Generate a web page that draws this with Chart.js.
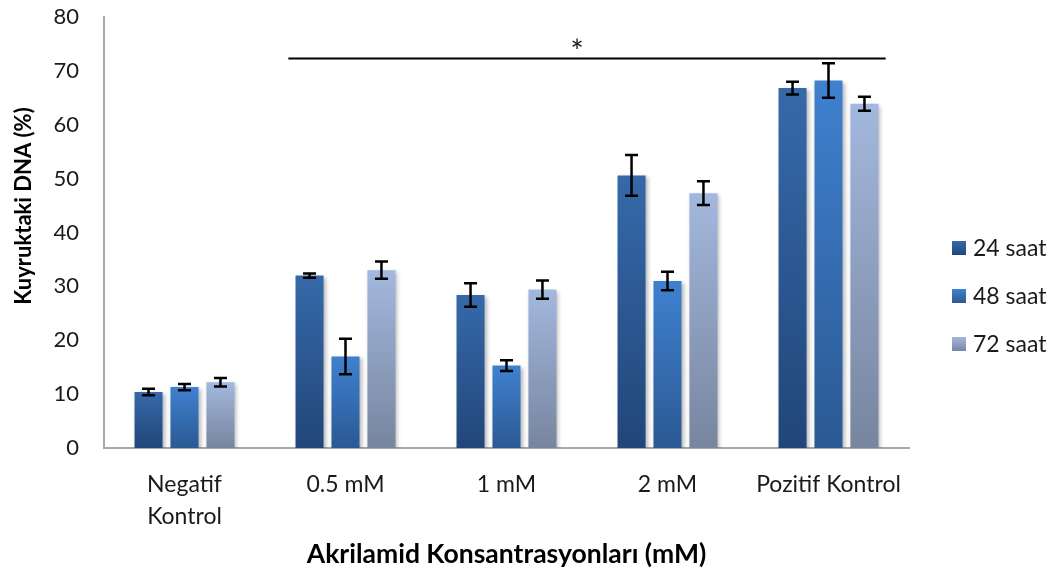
<!DOCTYPE html>
<html>
<head>
<meta charset="utf-8">
<script src="https://cdn.jsdelivr.net/npm/chart.js@4/dist/chart.umd.min.js"></script>
<style>
  html, body { margin: 0; padding: 0; background: #ffffff; }
  #wrap { width: 1056px; height: 574px; }
</style>
</head>
<body>
<div id="wrap"><canvas id="c" width="1056" height="574"></canvas></div>
<script>
// Categories and series (tail DNA %, mean ± error)
const categories = [['Negatif', 'Kontrol'], '0.5 mM', '1 mM', '2 mM', 'Pozitif Kontrol'];
const seriesNames = ['24 saat', '48 saat', '72 saat'];
const saat24 = [10.4, 32.0, 28.4, 50.6, 66.8];
const saat48 = [11.3, 17.0, 15.3, 31.0, 68.2];
const saat72 = [12.2, 33.0, 29.4, 47.3, 63.9];
const err24 = [0.6, 0.4, 2.2, 3.8, 1.2];
const err48 = [0.6, 3.3, 1.0, 1.7, 3.2];
const err72 = [0.8, 1.6, 1.7, 2.2, 1.3];
const yTicks = [0, 10, 20, 30, 40, 50, 60, 70, 80];
const sigLevel = 72.3;
const sigMark = '*';
const yTitle = 'Kuyruktaki DNA (%)';

const FONT = 'Lato, "Open Sans", sans-serif';

// top / bottom colours of each series' vertical gradient
const shades = [
  ['#3669aa', '#214679'],
  ['#3f81d0', '#2b5993'],
  ['#a3b8de', '#77859f']
];

function barGradient(ctx, idx) {
  const chart = ctx.chart;
  const area = chart.chartArea;
  if (!area || ctx.type !== 'data') return shades[idx][0];
  const y = chart.scales.y;
  const top = y.getPixelForValue(ctx.raw);
  const bottom = y.getPixelForValue(0);
  if (!isFinite(top) || !isFinite(bottom) || top === bottom) return shades[idx][0];
  const g = chart.ctx.createLinearGradient(0, top, 0, bottom);
  g.addColorStop(0, shades[idx][0]);
  g.addColorStop(1, shades[idx][1]);
  return g;
}

const values = [saat24, saat48, saat72];
const errors = [err24, err48, err72];

// soft drop shadow under the bars
const barShadow = {
  id: 'barShadow',
  beforeDatasetsDraw(chart) {
    const c = chart.ctx;
    c.save();
    c.shadowColor = 'rgba(0,0,0,0.28)';
    c.shadowBlur = 4;
    c.shadowOffsetX = 2;
    c.shadowOffsetY = 2;
  },
  afterDatasetsDraw(chart) {
    chart.ctx.restore();
  }
};

// error bars, significance bracket, y title and legend
const extras = {
  id: 'extras',
  afterDatasetsDraw(chart) {
    const c = chart.ctx;
    const y = chart.scales.y;
    const x = chart.scales.x;
    c.save();
    c.strokeStyle = '#000000';
    c.lineWidth = 2.5;
    c.lineCap = 'butt';
    chart.data.datasets.forEach((ds, i) => {
      const meta = chart.getDatasetMeta(i);
      meta.data.forEach((bar, j) => {
        const v = ds.data[j];
        const e = errors[i][j];
        const yHi = y.getPixelForValue(v + e);
        const yLo = y.getPixelForValue(v - e);
        const cx = bar.x;
        const cap = 6.5;
        c.beginPath();
        c.moveTo(cx, yHi); c.lineTo(cx, yLo);
        c.moveTo(cx - cap, yHi); c.lineTo(cx + cap, yHi);
        c.moveTo(cx - cap, yLo); c.lineTo(cx + cap, yLo);
        c.stroke();
      });
    });

    // significance line across the treated groups and the positive control
    const step = x.getPixelForValue(1) - x.getPixelForValue(0);
    const x0 = x.getPixelForValue(1) - step * 0.355;
    const x1 = x.getPixelForValue(4) + step * 0.355;
    const ys = y.getPixelForValue(sigLevel);
    c.lineWidth = 2.2;
    c.beginPath();
    c.moveTo(x0, ys); c.lineTo(x1, ys);
    c.stroke();
    c.fillStyle = '#222222';
    c.font = '32px ' + FONT;
    c.textAlign = 'center';
    c.textBaseline = 'alphabetic';
    c.fillText(sigMark, (x0 + x1) / 2 - 10, ys + 5);

    // rotated y-axis title
    c.save();
    c.translate(24, 206);
    c.rotate(-Math.PI / 2);
    c.font = 'bold 22px ' + FONT;
    c.fillStyle = '#000000';
    c.textAlign = 'center';
    c.textBaseline = 'middle';
    c.fillText(yTitle, 0, 0);
    c.restore();

    // legend
    const lx = 952, ly = 248, gap = 48, box = 14;
    c.font = '23px ' + FONT;
    c.textAlign = 'left';
    c.textBaseline = 'middle';
    seriesNames.forEach((name, i) => {
      const cy = ly + i * gap;
      const g = c.createLinearGradient(0, cy - box / 2, 0, cy + box / 2);
      g.addColorStop(0, shades[i][0]);
      g.addColorStop(1, shades[i][1]);
      c.fillStyle = g;
      c.fillRect(lx, cy - box / 2, box, box);
      c.fillStyle = '#1a1a1a';
      c.fillText(name, lx + 21, cy + 1);
    });
    c.restore();
  }
};

new Chart(document.getElementById('c'), {
  type: 'bar',
  data: {
    labels: categories,
    datasets: seriesNames.map((name, i) => ({
      label: name,
      data: values[i],
      backgroundColor: (ctx) => barGradient(ctx, i),
      borderWidth: 0,
      barPercentage: 0.78,
      categoryPercentage: 0.67
    }))
  },
  options: {
    responsive: false,
    animation: false,
    devicePixelRatio: 1,
    layout: { padding: { left: 0, right: 147, top: 17, bottom: 0 } },
    plugins: {
      legend: { display: false },
      tooltip: { enabled: false }
    },
    scales: {
      x: {
        grid: { display: false, drawTicks: false },
        border: { display: true, color: '#a8a8a8', width: 2 },
        ticks: {
          color: '#1a1a1a',
          font: { family: FONT, size: 23, lineHeight: 1.4 },
          padding: 20,
          maxRotation: 0,
          autoSkip: false
        },
        title: {
          display: true,
          text: 'Akrilamid Konsantrasyonları (mM)',
          color: '#000000',
          font: { family: FONT, size: 26.5, weight: 'bold' },
          padding: { top: 0, bottom: 4 }
        },
        afterFit(scale) { scale.height = 126; }
      },
      y: {
        min: 0,
        max: 80,
        grid: { display: false, drawTicks: false },
        border: { display: true, color: '#a8a8a8', width: 2 },
        afterBuildTicks(scale) { scale.ticks = yTicks.map(v => ({ value: v })); },
        ticks: {
          color: '#1a1a1a',
          font: { family: FONT, size: 22 },
          padding: 25
        },
        afterFit(scale) {
          scale.width = 104;
          scale.paddingTop = 0;
          scale.paddingBottom = 0;
        }
      }
    }
  },
  plugins: [barShadow, extras]
});
</script>
</body>
</html>
